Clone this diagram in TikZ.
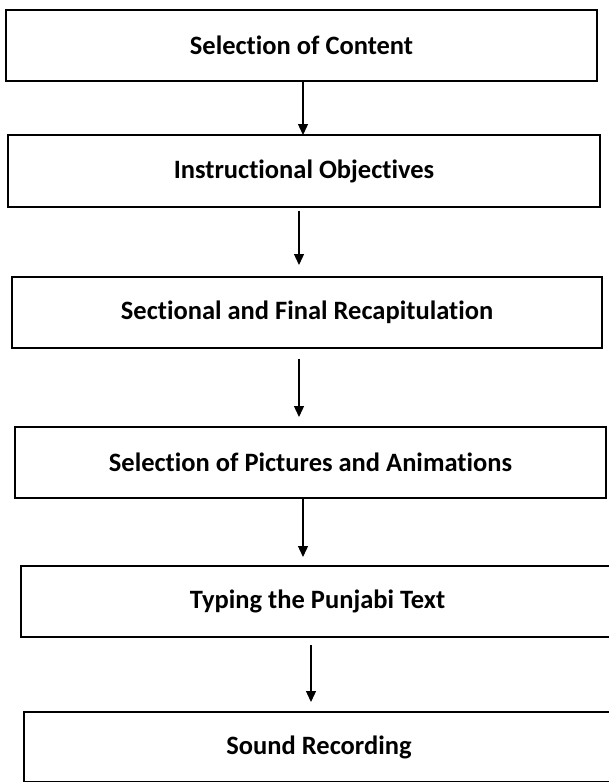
\documentclass[tikz,border=0pt]{standalone}
\usepackage{fontspec}
\setmainfont{Carlito}[Ligatures=NoCommon]
\usetikzlibrary{arrows.meta}
\begin{document}
\begin{tikzpicture}[x=1pt,y=-1pt,
  stage/.style={draw, line width=1.6pt, inner sep=0pt, font=\fontsize{26.5}{30}\selectfont\bfseries},
  flow/.style={line width=1.3pt, -{Triangle[width=10pt,length=11pt]}}]
\useasboundingbox (0,0) rectangle (609,782);
\node[stage, minimum width=591pt, minimum height=71pt] (box0) at (301.5,45.5) {Selection of Content};
\node[stage, minimum width=592pt, minimum height=72pt] (box1) at (304,171) {Instructional Objectives};
\node[stage, minimum width=590pt, minimum height=71pt] (box2) at (307,312.5) {Sectional and Final Recapitulation};
\node[stage, minimum width=591pt, minimum height=71pt] (box3) at (310.5,462.5) {Selection of Pictures and Animations};
\node[stage, minimum width=593pt, minimum height=71pt] (box4) at (317.5,601.5) {Typing the Punjabi Text};
\node[stage, minimum width=590pt, minimum height=70pt] (box5) at (319,747) {Sound Recording};
% arrow tips
\coordinate (tip1) at (303,135);
\coordinate (tip2) at (299,265);
\coordinate (tip3) at (299,417);
\coordinate (tip4) at (303,557);
\coordinate (tip5) at (311,702);
\draw[flow] (box0.south -| tip1) -- (tip1);
\draw[flow, shorten <=3pt] (box1.south -| tip2) -- (tip2);
\draw[flow, shorten <=10pt] (box2.south -| tip3) -- (tip3);
\draw[flow] (box3.south -| tip4) -- (tip4);
\draw[flow, shorten <=7pt] (box4.south -| tip5) -- (tip5);
\end{tikzpicture}
\end{document}
